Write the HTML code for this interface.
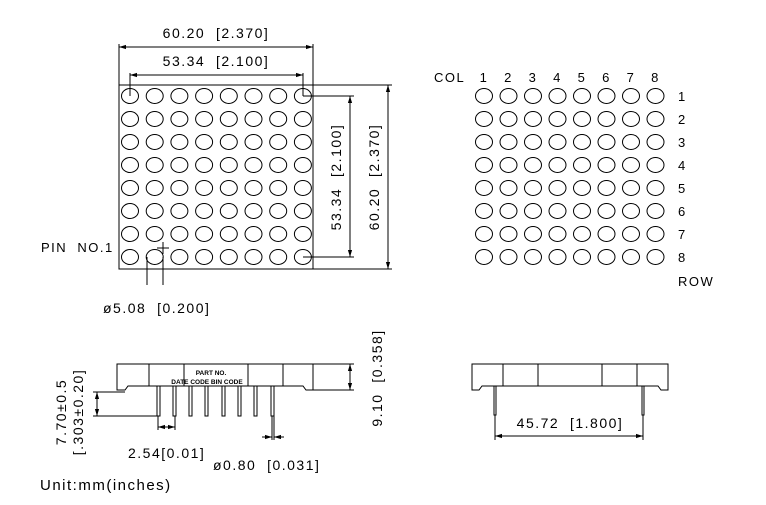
<!DOCTYPE html>
<html><head><style>body{margin:0;background:#fff}text{white-space:pre;letter-spacing:1.5px}text.s{letter-spacing:0}</style></head><body>
<svg width="766" height="500" xmlns="http://www.w3.org/2000/svg" font-family="Liberation Sans, sans-serif" fill="none" stroke="#000" stroke-width="1">
<defs>
<marker id="a" viewBox="0 0 10 10" refX="10" refY="5" markerWidth="7" markerHeight="7" orient="auto-start-reverse"><path d="M0,2L10,5L0,8" fill="#000" stroke="none"/></marker>
</defs>
<rect x="119" y="85" width="194" height="184"/>
<g id="grid"></g>
<line x1="119" y1="85" x2="119" y2="44"/><line x1="313" y1="85" x2="313" y2="44"/>
<line x1="119" y1="47" x2="313" y2="47" marker-start="url(#a)" marker-end="url(#a)"/>
<line x1="130" y1="96" x2="130" y2="73"/><line x1="303" y1="96" x2="303" y2="73"/>
<line x1="130" y1="75" x2="303" y2="75" marker-start="url(#a)" marker-end="url(#a)"/>
<g fill="#000" stroke="none" font-size="14">
<text x="216" y="38" text-anchor="middle">60.20  [2.370]</text>
<text x="216" y="66" text-anchor="middle">53.34  [2.100]</text>
<text transform="translate(341,177) rotate(-90)" text-anchor="middle">53.34  [2.100]</text>
<text transform="translate(379,177) rotate(-90)" text-anchor="middle">60.20  [2.370]</text>
<text x="41" y="252" font-size="13">PIN  NO.1</text>
<text x="103" y="313" font-size="14">ø5.08  [0.200]</text>
<text x="434" y="82" font-size="13">COL</text>
<text x="678" y="286" font-size="13">ROW</text>
<text x="40" y="490" font-size="15">Unit:mm(inches)</text>
<text x="128" y="458" font-size="14">2.54[0.01]</text>
<text x="213" y="470" font-size="14">ø0.80  [0.031]</text>
<text transform="translate(66,412) rotate(-90)" text-anchor="middle" font-size="14">7.70±0.5</text>
<text transform="translate(83,412) rotate(-90)" text-anchor="middle" font-size="14">[.303±0.20]</text>
<text transform="translate(382,378) rotate(-90)" text-anchor="middle" font-size="14">9.10  [0.358]</text>
<text x="570" y="428" text-anchor="middle" font-size="14">45.72  [1.800]</text>
<text class="s" x="211" y="375" text-anchor="middle" font-size="6.5" font-weight="bold">PART NO.</text>
<text class="s" x="207" y="384" text-anchor="middle" font-size="6.5" font-weight="bold">DATE CODE BIN CODE</text>
</g>
<line x1="313" y1="85" x2="392" y2="85"/><line x1="313" y1="269" x2="392" y2="269"/>
<line x1="388" y1="85" x2="388" y2="269" marker-start="url(#a)" marker-end="url(#a)"/>
<line x1="303" y1="96" x2="354" y2="96"/><line x1="303" y1="257" x2="354" y2="257"/>
<line x1="350" y1="96" x2="350" y2="257" marker-start="url(#a)" marker-end="url(#a)"/>
<line x1="147" y1="257" x2="147" y2="285"/><line x1="163" y1="257" x2="163" y2="285"/>
<line x1="163" y1="242" x2="163" y2="254"/><line x1="157" y1="248" x2="169" y2="248"/>
<path d="M117,364H313V390H306L303,386H128L125,390H117Z"/>
<line x1="149" y1="364" x2="149" y2="386"/><line x1="184" y1="364" x2="184" y2="386"/><line x1="248" y1="364" x2="248" y2="386"/><line x1="283" y1="364" x2="283" y2="386"/>
<g>
<rect x="157" y="386" width="3" height="30"/><rect x="173" y="386" width="3" height="30"/><rect x="189" y="386" width="3" height="30"/><rect x="205" y="386" width="3" height="30"/><rect x="222" y="386" width="3" height="30"/><rect x="238" y="386" width="3" height="30"/><rect x="254" y="386" width="3" height="30"/><rect x="271" y="386" width="3" height="30"/>
</g>
<line x1="93" y1="392" x2="125" y2="392"/><line x1="93" y1="416" x2="157" y2="416"/>
<line x1="97" y1="392" x2="97" y2="416" marker-start="url(#a)" marker-end="url(#a)"/>
<line x1="313" y1="364" x2="354" y2="364"/><line x1="313" y1="390" x2="354" y2="390"/>
<line x1="350" y1="364" x2="350" y2="390" marker-start="url(#a)" marker-end="url(#a)"/>
<line x1="158" y1="416" x2="158" y2="430"/><line x1="175" y1="416" x2="175" y2="430"/>
<line x1="158" y1="427" x2="175" y2="427" marker-start="url(#a)" marker-end="url(#a)"/>
<line x1="272" y1="416" x2="272" y2="440"/><line x1="274" y1="416" x2="274" y2="440"/>
<line x1="262" y1="437" x2="272" y2="437" marker-end="url(#a)"/><line x1="284" y1="437" x2="274" y2="437" marker-end="url(#a)"/>
<path d="M472,364H668V390H661L658,386H482L479,390H472Z"/>
<line x1="503" y1="364" x2="503" y2="386"/><line x1="538" y1="364" x2="538" y2="386"/><line x1="602" y1="364" x2="602" y2="386"/><line x1="637" y1="364" x2="637" y2="386"/>
<rect x="494" y="386" width="2" height="29"/><rect x="642" y="386" width="2" height="29"/>
<line x1="495" y1="415" x2="495" y2="440"/><line x1="643" y1="415" x2="643" y2="440"/>
<line x1="495" y1="436" x2="643" y2="436" marker-start="url(#a)" marker-end="url(#a)"/>
</svg>
<script>
(function(){
const ns="http://www.w3.org/2000/svg",s=document.querySelector('svg');
const g=document.getElementById('grid');
const t=document.createElementNS(ns,'g');t.setAttribute('fill','#000');t.setAttribute('stroke','none');t.setAttribute('font-size','13');s.appendChild(t);
for(let r=0;r<8;r++)for(let c=0;c<8;c++){
 let e=document.createElementNS(ns,'ellipse');e.setAttribute('cx',130+c*24.7);e.setAttribute('cy',96+r*23);e.setAttribute('rx',8.5);e.setAttribute('ry',7.5);g.appendChild(e);
 e=document.createElementNS(ns,'ellipse');e.setAttribute('cx',484+c*24.5);e.setAttribute('cy',96+r*23);e.setAttribute('rx',8.5);e.setAttribute('ry',7.5);g.appendChild(e);}
for(let i=0;i<8;i++){
 let x=document.createElementNS(ns,'text');x.setAttribute('x',484+i*24.5);x.setAttribute('y',82);x.setAttribute('text-anchor','middle');x.textContent=i+1;t.appendChild(x);
 x=document.createElementNS(ns,'text');x.setAttribute('x',678);x.setAttribute('y',101+i*23);x.textContent=i+1;t.appendChild(x);}
})();
</script>
</body></html>
